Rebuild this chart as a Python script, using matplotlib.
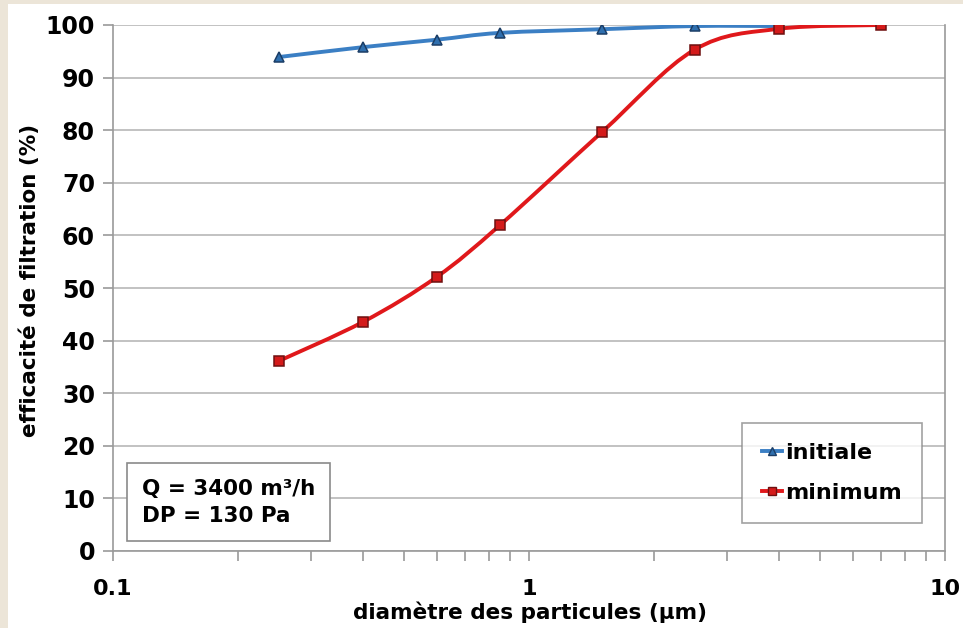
import numpy as np
import matplotlib.pyplot as plt
from matplotlib.path import Path
from matplotlib.patches import PathPatch, Rectangle
from matplotlib.lines import Line2D
from matplotlib.ticker import LogLocator, NullFormatter, FixedFormatter, FixedLocator

# particle diameters (um) and filtration efficiency (%)
diam_initiale = [0.25, 0.4, 0.6, 0.85, 1.5, 2.5, 4.0]
eff_initiale = [93.9, 95.8, 97.2, 98.5, 99.2, 99.8, 99.8]
diam_minimum = [0.25, 0.4, 0.6, 0.85, 1.5, 2.5, 4.0, 7.0]
eff_minimum = [36.1, 43.6, 52.1, 61.9, 79.7, 95.3, 99.3, 100.0]

x_ticks = [0.1, 1, 10]
x_ticklabels = ["0.1", "1", "10"]
y_ticks = list(range(0, 101, 10))

plt.rcParams['font.family'] = ['DejaVu Sans']
plt.rcParams['font.weight'] = 'bold'

fig = plt.figure(figsize=(9.63, 6.28), dpi=100)
fig.patch.set_facecolor('#ece5d8')
fig.patches.append(Rectangle((8 / 963, 0), 1, 1 - 4 / 628, transform=fig.transFigure,
                             facecolor='white', edgecolor='none', zorder=-10))

ax = fig.add_axes([113 / 963, 1 - 551 / 628, (945 - 113) / 963, (551 - 25) / 628])
ax.set_facecolor('white')
ax.set_xscale('log')
ax.set_xlim(0.1, 10)
ax.set_ylim(0, 100)


def smooth_path(xs, ys, t=1 / 6.0):
    # Excel-like smoothed line: cubic bezier segments in log-x space
    lx = np.log10(xs)
    y = np.array(ys, dtype=float)
    n = len(lx)
    verts = [(xs[0], ys[0])]
    codes = [Path.MOVETO]
    for i in range(n - 1):
        p0 = (lx[max(i - 1, 0)], y[max(i - 1, 0)])
        p1 = (lx[i], y[i])
        p2 = (lx[i + 1], y[i + 1])
        p3 = (lx[min(i + 2, n - 1)], y[min(i + 2, n - 1)])
        c1 = (p1[0] + (p2[0] - p0[0]) * t, p1[1] + (p2[1] - p0[1]) * t)
        c2 = (p2[0] - (p3[0] - p1[0]) * t, p2[1] - (p3[1] - p1[1]) * t)
        c1 = (c1[0], min(c1[1], 100.0))
        c2 = (c2[0], min(c2[1], 100.0))
        verts += [(10 ** c1[0], c1[1]), (10 ** c2[0], c2[1]), (xs[i + 1], ys[i + 1])]
        codes += [Path.CURVE4] * 3
    return Path(verts, codes)


blue = '#3b7fc4'
red = '#e0181b'
ax.add_patch(PathPatch(smooth_path(diam_initiale, eff_initiale), facecolor='none',
                       edgecolor=blue, lw=2.8, zorder=3))
ax.add_patch(PathPatch(smooth_path(diam_minimum, eff_minimum), facecolor='none',
                       edgecolor=red, lw=2.8, zorder=3))
ax.plot(diam_initiale, eff_initiale, ls='none', marker='^', ms=7, mfc='#2f6fae',
        mec='#1b3d66', mew=1.1, zorder=4)
ax.plot(diam_minimum, eff_minimum, ls='none', marker='s', ms=7, mfc='#d41a1a',
        mec='#6e1010', mew=1.1, zorder=4)

# grid and spines
ax.yaxis.set_major_locator(FixedLocator(y_ticks))
ax.grid(axis='y', color='#b8b8b8', lw=1.2)
ax.set_axisbelow(True)
for s in ['left', 'bottom', 'right']:
    ax.spines[s].set_color('#9a9a9a')
    ax.spines[s].set_linewidth(1.2)
ax.spines['top'].set_visible(False)

ax.xaxis.set_major_locator(FixedLocator(x_ticks))
ax.xaxis.set_major_formatter(FixedFormatter(x_ticklabels))
ax.xaxis.set_minor_locator(LogLocator(base=10, subs=np.arange(2, 10)))
ax.xaxis.set_minor_formatter(NullFormatter())
ax.tick_params(axis='x', which='both', direction='out', length=7, color='#9a9a9a',
               width=1.2, labelsize=16, pad=13)
ax.tick_params(axis='y', direction='out', length=7, color='#9a9a9a', width=1.2,
               labelsize=17, pad=6)
for lab in ax.get_xticklabels() + ax.get_yticklabels():
    lab.set_fontweight('bold')

fig.text(530 / 963, 1 - 612 / 628, "diamètre des particules (µm)", ha='center',
         va='center', fontsize=15.5, fontweight='bold')
fig.text(30 / 963, 1 - 280 / 628, "efficacité de filtration (%)", ha='center',
         va='center', rotation=90, fontsize=15.5, fontweight='bold')

# legend
handles = [Line2D([], [], color=blue, lw=2.8, marker='^', ms=6, mfc='#2f6fae', mec='#1b3d66'),
           Line2D([], [], color=red, lw=2.8, marker='s', ms=6, mfc='#d41a1a', mec='#6e1010')]
leg = ax.legend(handles, ["initiale", "minimum"], loc='lower right',
                bbox_to_anchor=(922 / 963, 1 - 523 / 628), bbox_transform=fig.transFigure,
                fontsize=16, frameon=True, fancybox=False, edgecolor='#8a8a8a',
                handlelength=0.9, handletextpad=0.15, labelspacing=0.9,
                borderpad=0.9, borderaxespad=0)
leg.get_frame().set_linewidth(1.2)
for t in leg.get_texts():
    t.set_fontweight('bold')

ax.text(0.1175, 4.8, "Q = 3400 m³/h\nDP = 130 Pa", transform=ax.transData,
        fontsize=15.5, fontweight='bold', va='bottom', ha='left', linespacing=1.45,
        bbox=dict(boxstyle='square,pad=0.7', facecolor='white', edgecolor='#8a8a8a', lw=1.2),
        zorder=5)

fig.savefig("out.png", dpi=100, facecolor=fig.get_facecolor())
